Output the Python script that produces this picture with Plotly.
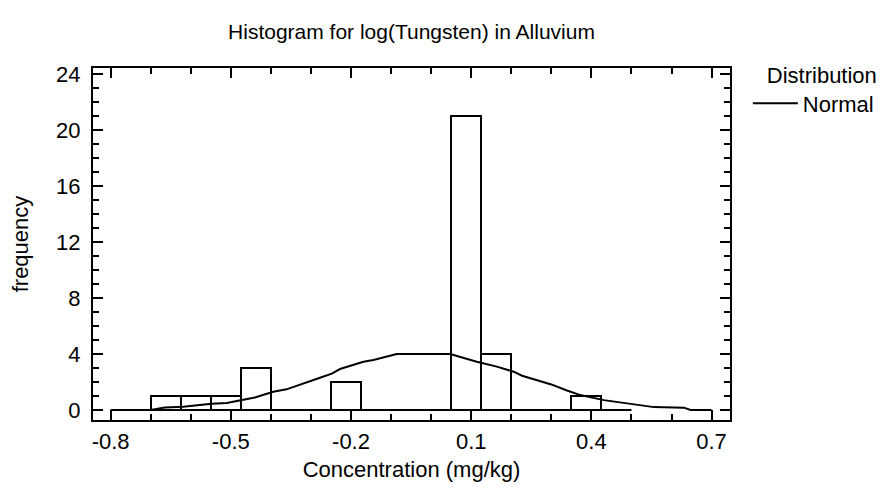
import plotly.graph_objects as go

# ---- data ----
bin_centers = [-0.6625, -0.5875, -0.5125, -0.4375, -0.2125, 0.0875, 0.1625, 0.3875]
bin_counts = [1, 1, 1, 3, 2, 21, 4, 1]
hist_range_x = [-0.8, 0.5]
hist_range_y = [0, 0]

normal_x = [-0.70, -0.665, -0.619, -0.59, -0.548, -0.51, -0.477, -0.44, -0.394, -0.361,
            -0.2775, -0.248, -0.2275, -0.169, -0.144, -0.086, 0.0475, 0.064, 0.089, 0.114,
            0.164, 0.206, 0.227, 0.2475, 0.30, 0.339, 0.3725, 0.431, 0.4725, 0.514, 0.556,
            0.631, 0.6475, 0.70]
normal_y = [0.0, 0.19, 0.24, 0.33, 0.45, 0.50, 0.71, 0.90, 1.31, 1.48,
            2.31, 2.60, 2.93, 3.45, 3.57, 4.0, 4.0, 3.86, 3.69, 3.45,
            3.10, 2.74, 2.45, 2.28, 1.83, 1.40, 1.07, 0.71, 0.55, 0.36, 0.21,
            0.17, 0.0, 0.0]

x_tick_vals = [-0.8, -0.5, -0.2, 0.1, 0.4, 0.7]
x_tick_text = ["-0.8", "-0.5", "-0.2", "0.1", "0.4", "0.7"]
y_tick_vals = [0, 4, 8, 12, 16, 20, 24]
y_tick_text = ["0", "4", "8", "12", "16", "20", "24"]

FONT = "Liberation Sans, Arial, sans-serif"
FS = 22
# the page body adds an 8px offset; figure coordinates are compensated for it
OFF = 8
W, H = 891, 493

fig = go.Figure()
fig.add_trace(go.Bar(
    x=bin_centers, y=bin_counts, width=0.075,
    marker=dict(color="white", line=dict(color="black", width=2)),
    showlegend=False, hoverinfo="x+y",
))
fig.add_trace(go.Scatter(
    x=hist_range_x, y=hist_range_y, mode="lines",
    line=dict(color="black", width=2), showlegend=False, hoverinfo="skip",
))
fig.add_trace(go.Scatter(
    x=normal_x, y=normal_y, mode="lines", name="Normal",
    line=dict(color="black", width=2),
))

axis_common = dict(
    showline=True, linecolor="black", linewidth=2, mirror="ticks",
    ticks="inside", ticklen=10, tickwidth=2, tickcolor="black",
    showgrid=False, zeroline=False, automargin=False,
    tickfont=dict(family=FONT, size=FS, color="black"),
)

fig.update_xaxes(
    range=[-0.844, 0.746], tickmode="array", tickvals=x_tick_vals, ticktext=x_tick_text,
    minor=dict(tickmode="linear", tick0=-0.8, dtick=0.1, ticks="inside", ticklen=6,
               tickwidth=2, tickcolor="black", showgrid=False),
    ticklabelstandoff=1,
    title=dict(text="Concentration (mg/kg)", font=dict(family=FONT, size=FS, color="black"),
               standoff=8),
    **axis_common,
)
fig.update_yaxes(
    range=[-0.71, 24.43], tickmode="array", tickvals=y_tick_vals, ticktext=y_tick_text,
    minor=dict(tickmode="linear", tick0=0, dtick=1, ticks="inside", ticklen=6,
               tickwidth=2, tickcolor="black", showgrid=False),
    ticklabelstandoff=6,
    title=dict(text="frequency", font=dict(family=FONT, size=FS, color="black"),
               standoff=28),
    **axis_common,
)

left, top, pw, ph = 93 - OFF, 68 - OFF, 637, 352
fig.update_layout(
    width=W, height=H,
    margin=dict(l=left, r=W - left - pw, t=top, b=H - top - ph, autoexpand=False),
    paper_bgcolor="white", plot_bgcolor="white",
    title=dict(text="Histogram for log(Tungsten) in Alluvium",
               font=dict(family=FONT, size=21, color="black"),
               x=0.5, xref="paper", xanchor="center",
               y=1 - (32 - OFF) / H, yanchor="middle"),
    legend=dict(x=1.028, y=1.04, xanchor="left", yanchor="top",
                itemwidth=45,
                title=dict(text="Distribution", side="top right",
                           font=dict(family=FONT, size=FS, color="black")),
                font=dict(family=FONT, size=FS, color="black"),
                bgcolor="rgba(0,0,0,0)"),
    bargap=0,
)

fig.write_html("out.html")
